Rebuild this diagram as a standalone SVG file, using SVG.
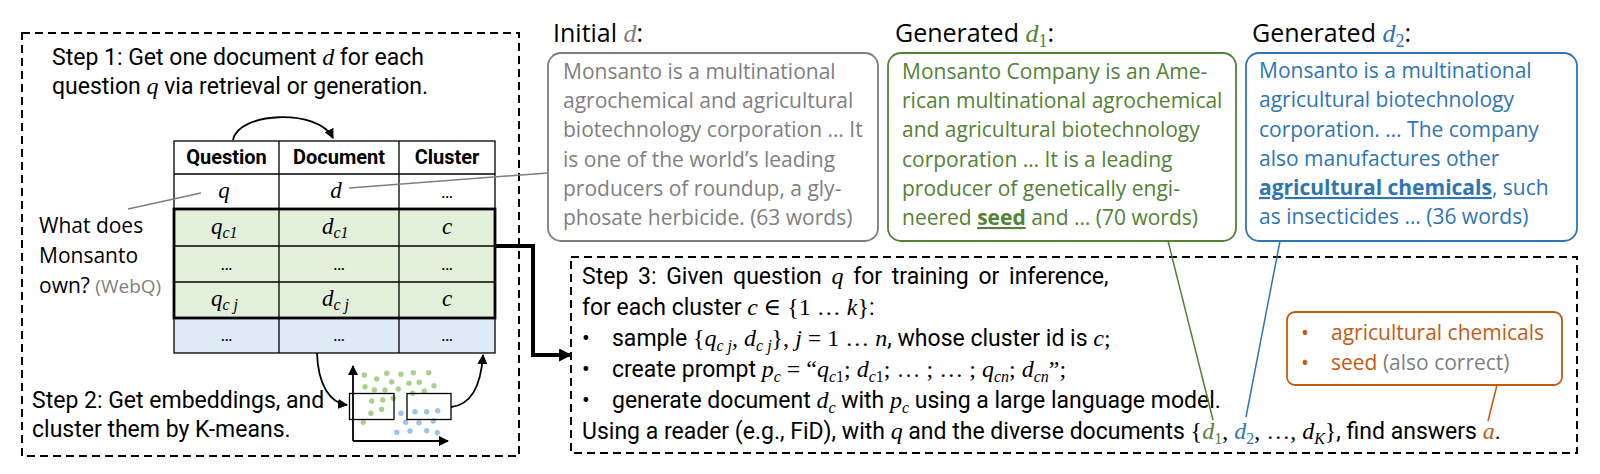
<svg xmlns="http://www.w3.org/2000/svg" width="1600" height="474" viewBox="0 0 1600 474">
<style>
.rb{font-family:Roboto,"Liberation Sans",sans-serif;font-size:23px;fill:#000}
.rbb{font-family:Roboto,"Liberation Sans",sans-serif;font-size:20px;font-weight:bold;fill:#000}
.m{font-family:"Liberation Serif","DejaVu Serif",serif;font-style:italic}
.mu{font-family:"Liberation Serif","DejaVu Serif",serif}
.lt{font-family:"Open Sans",Lato,sans-serif;font-size:21px}
.ttl{font-family:"Open Sans",Lato,sans-serif;font-size:25px;fill:#000}
.grey{fill:#7f7f7f}
.green{fill:#548235}
.blue{fill:#2e75b6}
.orange{fill:#c55a11}
.dash{fill:none;stroke:#000;stroke-width:2;stroke-dasharray:8 5}
.ln{fill:none;stroke:#000;stroke-width:1.8}
.gd{fill:#a9d18e}
.bd{fill:#9dc3e6}
.ell{font-family:Roboto,"Liberation Sans",sans-serif;font-size:18px;fill:#000;text-anchor:middle}
.ctr{text-anchor:middle}
</style>
<defs>
<marker id="ah" viewBox="0 0 10 10" refX="9" refY="5" markerWidth="10" markerHeight="10" markerUnits="userSpaceOnUse" orient="auto">
<path d="M0,0 L10,5 L0,10 Z" fill="#000"/>
</marker>
<marker id="ahb" viewBox="0 0 12 12" refX="11" refY="6" markerWidth="13" markerHeight="13" markerUnits="userSpaceOnUse" orient="auto">
<path d="M0,0 L12,6 L0,12 Z" fill="#000"/>
</marker>
</defs>

<g id="step1-panel">
<rect class="dash" x="22" y="33" width="497" height="423"/>
<text class="rb" x="52" y="65">Step 1: Get one document <tspan class="m" font-size="24">d</tspan> for each</text>
<text class="rb" x="52" y="94">question <tspan class="m" font-size="24">q</tspan> via retrieval or generation.</text>
</g>

<g id="table">
<rect x="174" y="141" width="321" height="68" fill="#fff" stroke="#000" stroke-width="1.3"/>
<rect x="174" y="209" width="321" height="109" fill="#e2efda"/>
<rect x="174" y="318" width="321" height="35" fill="#deebf7"/>
<g stroke="#000" stroke-width="1.3" fill="none">
<line x1="174" y1="174" x2="495" y2="174"/>
<line x1="174" y1="246" x2="495" y2="246"/>
<line x1="174" y1="282" x2="495" y2="282"/>
<line x1="279" y1="141" x2="279" y2="353"/>
<line x1="399" y1="141" x2="399" y2="353"/>
<rect x="174" y="318" width="321" height="35"/>
</g>
<rect x="174" y="209" width="321" height="109" fill="none" stroke="#000" stroke-width="2.8"/>
<text class="rbb ctr" x="226.5" y="164">Question</text>
<text class="rbb ctr" x="339" y="164">Document</text>
<text class="rbb ctr" x="447" y="164">Cluster</text>
<text class="m ctr" x="224" y="198" font-size="23">q</text>
<text class="m ctr" x="336" y="198" font-size="23">d</text>
<text class="ell" x="447" y="198">…</text>
<text class="m" x="211" y="234" font-size="23">q<tspan font-size="16" dy="4">c</tspan><tspan class="mu" font-size="16">1</tspan></text>
<text class="m" x="322" y="234" font-size="23">d<tspan font-size="16" dy="4">c</tspan><tspan class="mu" font-size="16">1</tspan></text>
<text class="m ctr" x="447" y="234" font-size="23">c</text>
<text class="ell" x="226.5" y="270">…</text>
<text class="ell" x="339" y="270">…</text>
<text class="ell" x="447" y="270">…</text>
<text class="m" x="211" y="306" font-size="23">q<tspan font-size="16" dy="4">c j</tspan></text>
<text class="m" x="322" y="306" font-size="23">d<tspan font-size="16" dy="4">c j</tspan></text>
<text class="m ctr" x="447" y="306" font-size="23">c</text>
<text class="ell" x="226.5" y="341">…</text>
<text class="ell" x="339" y="341">…</text>
<text class="ell" x="447" y="341">…</text>
</g>

<g id="question">
<text class="lt" x="39" y="233" font-size="24">What does</text>
<text class="lt" x="39" y="263" font-size="24">Monsanto</text>
<text class="lt" x="39" y="293" font-size="24">own? <tspan class="grey" font-size="19">(WebQ)</tspan></text>
</g>

<g id="step2-panel">
<text class="rb" x="32" y="408">Step 2: Get embeddings, and</text>
<text class="rb" x="32" y="437">cluster them by K-means.</text>
<g id="scatter">
<circle class="gd" cx="364.3" cy="375" r="2.7"/><circle class="gd" cx="376.7" cy="379" r="2.7"/><circle class="gd" cx="386.7" cy="373.3" r="2.7"/><circle class="gd" cx="401" cy="374.3" r="2.7"/><circle class="gd" cx="413.3" cy="372.7" r="2.7"/><circle class="gd" cx="428.7" cy="372.7" r="2.7"/>
<circle class="gd" cx="365" cy="386.7" r="2.7"/><circle class="gd" cx="374.3" cy="390" r="2.7"/><circle class="gd" cx="385" cy="390" r="2.7"/><circle class="gd" cx="391.7" cy="382" r="2.7"/><circle class="gd" cx="398.3" cy="389" r="2.7"/><circle class="gd" cx="409" cy="383.3" r="2.7"/><circle class="gd" cx="419.3" cy="382.3" r="2.7"/><circle class="gd" cx="434" cy="385.7" r="2.7"/>
<circle class="gd" cx="412.7" cy="393.3" r="2.7"/><circle class="gd" cx="424.3" cy="391" r="2.7"/>
<circle class="gd" cx="371.7" cy="401" r="2.7"/><circle class="gd" cx="382.7" cy="400" r="2.7"/><circle class="gd" cx="393.3" cy="398.3" r="2.7"/>
<circle class="gd" cx="371" cy="413.3" r="2.7"/><circle class="gd" cx="381.7" cy="409.3" r="2.7"/><circle class="gd" cx="363.3" cy="422.3" r="2.7"/>
<circle class="bd" cx="401" cy="413.3" r="2.7"/><circle class="bd" cx="415" cy="411.7" r="2.7"/><circle class="bd" cx="426.7" cy="411.7" r="2.7"/><circle class="bd" cx="437.7" cy="410.7" r="2.7"/>
<circle class="bd" cx="405.7" cy="422.3" r="2.7"/><circle class="bd" cx="419" cy="422.7" r="2.7"/><circle class="bd" cx="433.3" cy="421" r="2.7"/>
<circle class="bd" cx="396.7" cy="432.3" r="2.7"/><circle class="bd" cx="410" cy="431" r="2.7"/><circle class="bd" cx="426.7" cy="430.7" r="2.7"/><circle class="bd" cx="437.3" cy="432.7" r="2.7"/>
<rect x="349.5" y="393.5" width="44.5" height="26" fill="none" stroke="#000" stroke-width="1.3"/>
<rect x="407" y="393.5" width="44" height="26" fill="none" stroke="#000" stroke-width="1.3"/>
</g>
</g>

<g id="doc-initial">
<text class="ttl" x="553" y="42">Initial <tspan class="m grey" font-size="26">d</tspan>:</text>
<rect x="548" y="53" width="330" height="188" rx="13" fill="#fff" stroke="#7f7f7f" stroke-width="1.8"/>
<g class="lt grey">
<text x="563" y="79">Monsanto is a multinational</text>
<text x="563" y="108">agrochemical and agricultural</text>
<text x="563" y="137">biotechnology corporation … It</text>
<text x="563" y="167">is one of the world’s leading</text>
<text x="563" y="196">producers of roundup, a gly-</text>
<text x="563" y="225">phosate herbicide. (63 words)</text>
</g>
</g>

<g id="doc-d1">
<text class="ttl" x="895" y="42">Generated <tspan class="m green" font-size="26">d</tspan><tspan class="mu green" font-size="18" dy="5">1</tspan><tspan dy="-5">:</tspan></text>
<rect x="888" y="53" width="348" height="188" rx="13" fill="#fff" stroke="#548235" stroke-width="1.8"/>
<g class="lt green">
<text x="902" y="79">Monsanto Company is an Ame-</text>
<text x="902" y="108">rican multinational agrochemical</text>
<text x="902" y="137">and agricultural biotechnology</text>
<text x="902" y="167">corporation … It is a leading</text>
<text x="902" y="196">producer of genetically engi-</text>
<text x="902" y="225">neered <tspan font-weight="bold" text-decoration="underline">seed</tspan> and … (70 words)</text>
</g>
</g>

<g id="doc-d2">
<text class="ttl" x="1252" y="42">Generated <tspan class="m blue" font-size="26">d</tspan><tspan class="mu blue" font-size="18" dy="5">2</tspan><tspan dy="-5">:</tspan></text>
<rect x="1246" y="53" width="331" height="188" rx="13" fill="#fff" stroke="#2e75b6" stroke-width="1.8"/>
<g class="lt blue">
<text x="1259" y="78">Monsanto is a multinational</text>
<text x="1259" y="107">agricultural biotechnology</text>
<text x="1259" y="137">corporation. … The company</text>
<text x="1259" y="166">also manufactures other</text>
<text x="1259" y="195"><tspan font-weight="bold" text-decoration="underline">agricultural chemicals</tspan>, such</text>
<text x="1259" y="224">as insecticides … (36 words)</text>
</g>
</g>

<g id="step3-panel">
<rect class="dash" x="571" y="257" width="1006" height="196"/>
<text class="rb" x="582" y="284" font-size="23.5" word-spacing="4">Step 3: Given question <tspan class="m" font-size="24">q</tspan> for training or inference,</text>
<text class="rb" x="582" y="315">for each cluster <tspan class="m" font-size="24">c</tspan> <tspan class="mu" font-size="24">∈ {1 … </tspan><tspan class="m" font-size="24">k</tspan><tspan class="mu" font-size="24">}</tspan>:</text>
<text class="rb" x="582" y="346">•</text>
<text class="rb" x="612" y="346" font-size="23.4">sample <tspan class="mu" font-size="24">{</tspan><tspan class="m" font-size="24">q</tspan><tspan class="m" font-size="16" dy="5">c j</tspan><tspan class="mu" font-size="24" dy="-5">, </tspan><tspan class="m" font-size="24">d</tspan><tspan class="m" font-size="16" dy="5">c j</tspan><tspan class="mu" font-size="24" dy="-5">}, </tspan><tspan class="m" font-size="24">j</tspan><tspan class="mu" font-size="24"> = 1 … </tspan><tspan class="m" font-size="24">n</tspan>, whose cluster id is <tspan class="m" font-size="24">c</tspan><tspan class="mu" font-size="24">;</tspan></text>
<text class="rb" x="582" y="377">•</text>
<text class="rb" x="612" y="377">create prompt <tspan class="m" font-size="24">p</tspan><tspan class="m" font-size="16" dy="5">c</tspan><tspan class="mu" font-size="24" dy="-5"> = “</tspan><tspan class="m" font-size="24">q</tspan><tspan class="m" font-size="16" dy="5">c</tspan><tspan class="mu" font-size="16">1</tspan><tspan class="mu" font-size="24" dy="-5">; </tspan><tspan class="m" font-size="24">d</tspan><tspan class="m" font-size="16" dy="5">c</tspan><tspan class="mu" font-size="16">1</tspan><tspan class="mu" font-size="24" dy="-5">; … ; … ; </tspan><tspan class="m" font-size="24">q</tspan><tspan class="m" font-size="16" dy="5">cn</tspan><tspan class="mu" font-size="24" dy="-5">; </tspan><tspan class="m" font-size="24">d</tspan><tspan class="m" font-size="16" dy="5">cn</tspan><tspan class="mu" font-size="24" dy="-5">”;</tspan></text>
<text class="rb" x="582" y="408">•</text>
<text class="rb" x="612" y="408" font-size="23.7">generate document <tspan class="m" font-size="24">d</tspan><tspan class="m" font-size="16" dy="5">c</tspan><tspan dy="-5"> with </tspan><tspan class="m" font-size="24">p</tspan><tspan class="m" font-size="16" dy="5">c</tspan><tspan dy="-5"> using a large language model.</tspan></text>
<text class="rb" x="582" y="439" font-size="23.2">Using a reader (e.g., FiD), with <tspan class="m" font-size="24">q</tspan> and the diverse documents <tspan class="mu" font-size="24">{</tspan><tspan class="m green" font-size="24">d</tspan><tspan class="mu green" font-size="16" dy="5">1</tspan><tspan class="mu" font-size="24" dy="-5">, </tspan><tspan class="m blue" font-size="24">d</tspan><tspan class="mu blue" font-size="16" dy="5">2</tspan><tspan class="mu" font-size="24" dy="-5">, …, </tspan><tspan class="m" font-size="24">d</tspan><tspan class="m" font-size="16" dy="5">K</tspan><tspan class="mu" font-size="24" dy="-5">}</tspan>, find answers <tspan class="m orange" font-size="24">a</tspan>.</text>
</g>

<g id="answers">
<rect x="1287" y="312" width="275" height="73" rx="8" fill="#fff" stroke="#c55a11" stroke-width="1.8"/>
<text class="lt orange" x="1301" y="340">•</text>
<text class="lt orange" x="1331" y="340" font-size="21.8">agricultural chemicals</text>
<text class="lt orange" x="1301" y="370">•</text>
<text class="lt orange" x="1331" y="370" font-size="21.8">seed <tspan class="grey">(also correct)</tspan></text>
</g>

<g id="connectors">
<path class="ln" d="M233,140 C238,112 318,108 333,138" marker-end="url(#ah)"/>
<path class="ln" d="M317,353 C318,385 330,403 347,405" marker-end="url(#ah)"/>
<path class="ln" d="M451,407 C471,405 481,385 483,355" marker-end="url(#ah)"/>
<path class="ln" d="M353,441 V366" marker-end="url(#ah)"/>
<path class="ln" d="M353,441 H448" marker-end="url(#ah)"/>
<polyline points="495,246 533,246 533,355 571,355" fill="none" stroke="#000" stroke-width="4" marker-end="url(#ahb)"/>
<line x1="128" y1="209" x2="201" y2="193" stroke="#7f7f7f" stroke-width="1.5"/>
<line x1="349" y1="188" x2="548" y2="173" stroke="#7f7f7f" stroke-width="1.5"/>
<line x1="1168" y1="241" x2="1213" y2="420" stroke="#548235" stroke-width="1.5"/>
<line x1="1280" y1="241" x2="1246" y2="417" stroke="#2e75b6" stroke-width="1.5"/>
<line x1="1497" y1="385" x2="1488" y2="421" stroke="#c55a11" stroke-width="1.5"/>
</g>
</svg>
